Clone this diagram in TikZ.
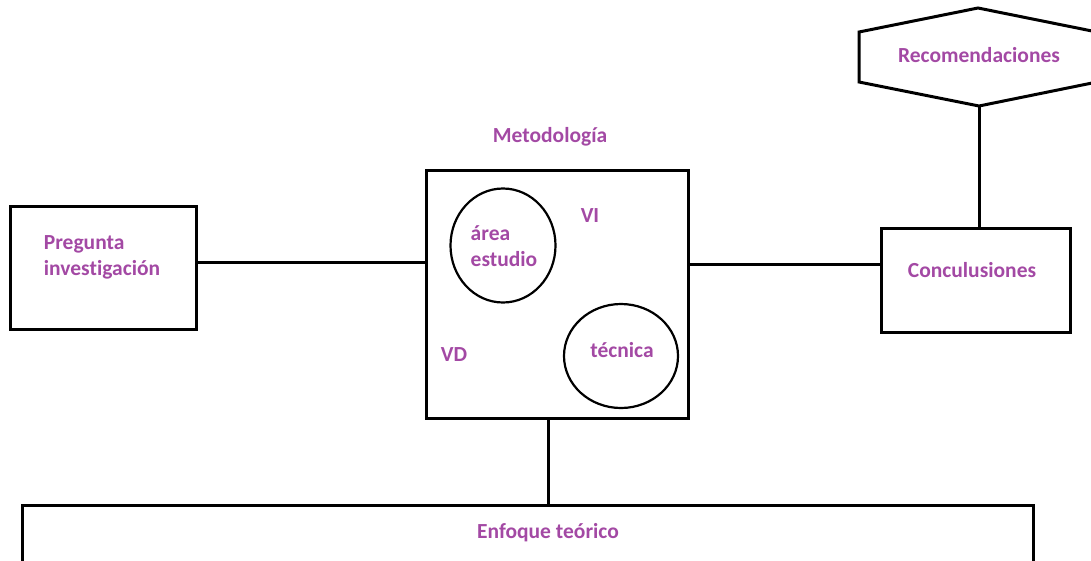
\documentclass[tikz,border=0pt]{standalone}
\usepackage{fontspec}
\setmainfont{Carlito}[Ligatures=CommonOff]
\usetikzlibrary{shapes.geometric}

\definecolor{lila}{RGB}{163,73,164}

\tikzset{
	box/.style={draw, rectangle, line width=3pt},
	bubble/.style={draw, ellipse, line width=2.2pt, inner sep=0pt, align=left},
	txt/.style={text=lila, font=\fontsize{21.5}{26}\selectfont\bfseries, inner sep=0pt}
}

\begin{document}
\begin{tikzpicture}[x=1pt, y=-1pt, line width=3pt]

	\useasboundingbox (0,0) rectangle (1091,560);
	\clip (0,0) rectangle (1091,560);

	\def \HexL {859}
	\def \HexR {1097}
	\def \HexMid {978}

	% boxes
	\node (Preg) at (103,267.5) [box, minimum width = 186, minimum height = 123]{};
	\node (Metod) at (557,294) [box, minimum width = 262, minimum height = 248]{};
	\node (Concl) at (976,280.5) [box, minimum width = 189, minimum height = 104]{};
	\node (Enf) at (527.5,535) [box, minimum width = 1011, minimum height = 60]{};

	% hexagon
	\coordinate (RecT) at (\HexMid,8);
	\coordinate (RecB) at (\HexMid+1,106);
	\draw[line join=miter] (\HexL,32) -- (RecT) -- (\HexR,32) -- (\HexR,82) -- (RecB) -- (\HexL,82) -- cycle;

	% texts
	\node (PregT) at (102,257) [txt, align=left]{Pregunta\\investigación};
	\node (MetodT) at (550,137) [txt]{Metodología};
	\node (ConclT) at (972,270) [txt]{Conculusiones};
	\node (RecT) at (979,55) [txt]{Recomendaciones};
	\node (EnfT) at (548,533) [txt]{Enfoque teórico};
	\node (VI) at (590,216) [txt]{VI};
	\node (VD) at (454,355) [txt]{VD};

	% inside the method box
	\node (Area) at (503,245.5) [bubble, minimum width = 105, minimum height = 114]{};
	\node (AreaT) at (504,246) [txt, align=left]{área\\estudio};
	\node (Tec) at (621,356) [bubble, minimum width = 114, minimum height = 104]{};
	\node (TecT) at (622,350) [txt]{técnica};

	% connectors
	\draw[-] ([yshift=5.5pt]Preg.east) -- ([yshift=5.5pt]Preg.east -| Metod.west);
	\draw[-] ([yshift=16.5pt]Concl.west -| Metod.east) -- ([yshift=16.5pt]Concl.west);
	\draw[-] (RecB) -- (RecB |- Concl.north);
	\draw[-] ([xshift=-9pt]Metod.south) -- ([xshift=-9pt]Metod.south |- Enf.north);

\end{tikzpicture}
\end{document}
